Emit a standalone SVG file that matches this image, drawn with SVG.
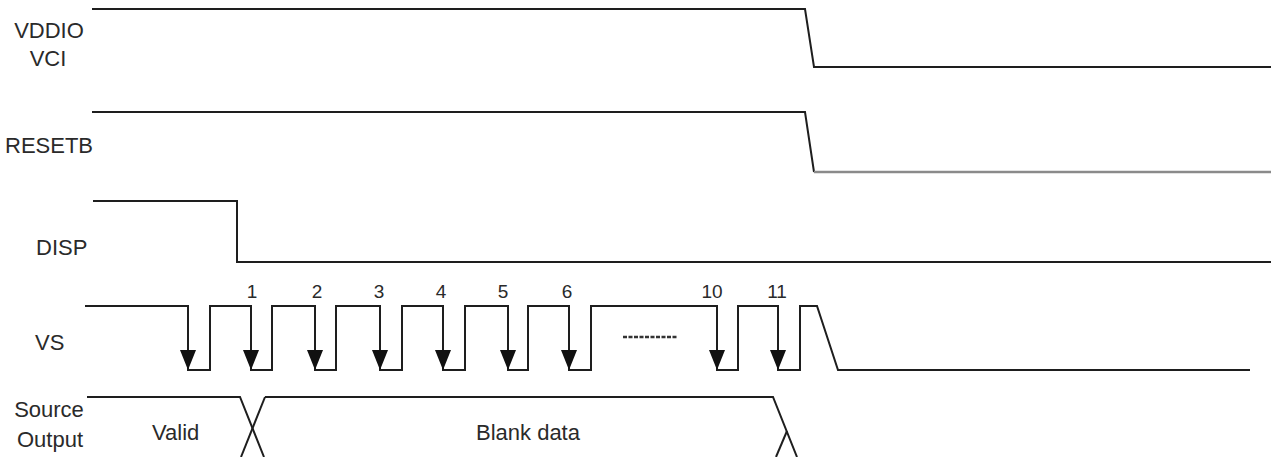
<svg xmlns="http://www.w3.org/2000/svg" width="1275" height="457" viewBox="0 0 1275 457">
<style>
.lbl{font-family:"Liberation Sans",Arial,sans-serif;font-size:22px;fill:#2a2a2a}
.num{font-family:"Liberation Sans",Arial,sans-serif;font-size:19px;fill:#2a2a2a;text-anchor:middle}
.w{fill:none;stroke:#1e1e1e;stroke-width:2;stroke-linejoin:miter}
.g{fill:none;stroke:#8a8a8a;stroke-width:2.5}
</style>
<defs>
<marker id="ah" markerUnits="userSpaceOnUse" viewBox="0 0 20 16" markerWidth="20" markerHeight="16" refX="20" refY="8" orient="auto">
<path d="M0,0 L20,8 L0,16 z" fill="#111"/>
</marker>
</defs>
<g id="labels">
<text class="lbl" x="49" y="38" text-anchor="middle">VDDIO</text>
<text class="lbl" x="48" y="66" text-anchor="middle">VCI</text>
<text class="lbl" x="5" y="153">RESETB</text>
<text class="lbl" x="36" y="255">DISP</text>
<text class="lbl" x="35" y="350">VS</text>
<text class="lbl" x="49" y="417" text-anchor="middle">Source</text>
<text class="lbl" x="50" y="447" text-anchor="middle">Output</text>
</g>
<g id="vddio">
<path class="w" d="M92,9 H805 L814,67 H1271"/>
</g>
<g id="resetb">
<path class="w" d="M92,112 H805 L814,172"/>
<path class="g" d="M814,172 H1271"/>
</g>
<g id="disp">
<path class="w" d="M93,201 H237 V262 H1271"/>
</g>
<g id="vs">
<path class="w" d="M85,306 H188 V370 H210 V306 H251 V370 H272 V306 H315 V370 H336 V306 H380 V370 H402 V306 H443 V370 H465 V306 H508 V370 H528 V306 H569 V370 H591 V306 H717 V370 H738 V306 H778 V370 H800 V306 H817 L838,370 H1250"/>
<line x1="623" y1="337" x2="678" y2="337" stroke="#333" stroke-width="2.5" stroke-dasharray="4,1.5"/>
<text class="num" x="252" y="298">1</text>
<text class="num" x="317" y="298">2</text>
<text class="num" x="379" y="298">3</text>
<text class="num" x="441" y="298">4</text>
<text class="num" x="503" y="298">5</text>
<text class="num" x="567" y="298">6</text>
<text class="num" x="712" y="298">10</text>
<text class="num" x="777" y="298">11</text>
</g>
<g id="connectors">
<line class="w" x1="188" y1="306" x2="188" y2="370" marker-end="url(#ah)"/>
<line class="w" x1="251" y1="306" x2="251" y2="370" marker-end="url(#ah)"/>
<line class="w" x1="315" y1="306" x2="315" y2="370" marker-end="url(#ah)"/>
<line class="w" x1="380" y1="306" x2="380" y2="370" marker-end="url(#ah)"/>
<line class="w" x1="443" y1="306" x2="443" y2="370" marker-end="url(#ah)"/>
<line class="w" x1="508" y1="306" x2="508" y2="370" marker-end="url(#ah)"/>
<line class="w" x1="569" y1="306" x2="569" y2="370" marker-end="url(#ah)"/>
<line class="w" x1="717" y1="306" x2="717" y2="370" marker-end="url(#ah)"/>
<line class="w" x1="778" y1="306" x2="778" y2="370" marker-end="url(#ah)"/>
</g>
<g id="source">
<path class="w" d="M87,397 H240 L264,457"/>
<path class="w" d="M265,397 L241,457"/>
<path class="w" d="M265,397 H773 L797,457"/>
<path class="w" d="M787,431 L776,457"/>
<text class="lbl" x="152" y="440">Valid</text>
<text class="lbl" x="476" y="440">Blank data</text>
</g>
</svg>
